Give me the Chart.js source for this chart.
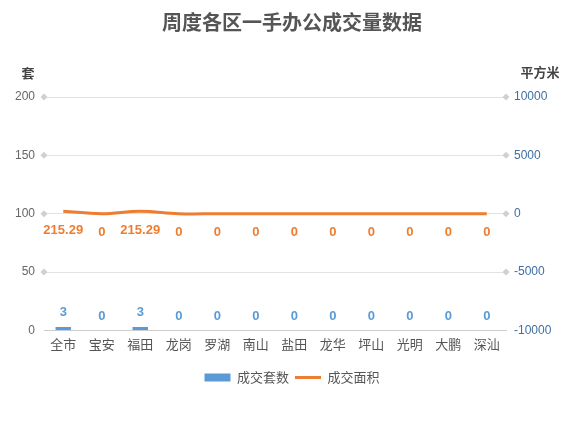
<!DOCTYPE html>
<html lang="zh-CN">
<head>
<meta charset="UTF-8">
<title>周度各区一手办公成交量数据</title>
<script src="https://cdn.jsdelivr.net/npm/chart.js"></script>
<style>
  html, body { margin: 0; padding: 0; background: #fff; }
  .chart-box { width: 584px; height: 421px; position: relative; }
</style>
</head>
<body>
<div class="chart-box"><canvas id="officeChart"></canvas></div>
<script>
const districts = ['全市', '宝安', '福田', '龙岗', '罗湖', '南山', '盐田', '龙华', '坪山', '光明', '大鹏', '深汕'];
const unitsSold = [3, 0, 3, 0, 0, 0, 0, 0, 0, 0, 0, 0];
const areaSold = [215.29, 0, 215.29, 0, 0, 0, 0, 0, 0, 0, 0, 0];
const leftTicks = [0, 50, 100, 150, 200];
const rightTicks = [-10000, -5000, 0, 5000, 10000];

const FONT = '"Liberation Sans", Arial, "Noto Sans CJK SC", sans-serif';
const BLUE = '#5b9bd5';
const ORANGE = '#ed7d31';

// small diamonds at gridline ends, axis unit titles, value labels
const extras = {
  id: 'extras',
  afterDatasetsDraw(chart) {
    const ctx = chart.ctx;
    const area = chart.chartArea;
    const yl = chart.scales.y, yr = chart.scales.y1;
    ctx.save();
    ctx.fillStyle = '#d0d0d0';
    const diamond = (x, y) => {
      ctx.beginPath();
      ctx.moveTo(x, y - 3.5); ctx.lineTo(x + 3.5, y); ctx.lineTo(x, y + 3.5); ctx.lineTo(x - 3.5, y);
      ctx.closePath(); ctx.fill();
    };
    leftTicks.forEach(v => { if (v !== 0) diamond(area.left, yl.getPixelForValue(v)); });
    rightTicks.forEach(v => { if (v !== -10000) diamond(area.right, yr.getPixelForValue(v)); });

    ctx.fillStyle = '#444';
    ctx.font = 'bold 13px "Noto Sans CJK SC", sans-serif';
    ctx.textAlign = 'center';
    ctx.textBaseline = 'middle';
    ctx.fillText('套', 28, 73);
    ctx.fillText('平方米', 540, 72);

    ctx.font = 'bold 13px ' + FONT;
    chart.getDatasetMeta(0).data.forEach((bar, i) => {
      ctx.fillStyle = BLUE;
      ctx.fillText(String(unitsSold[i]), bar.x, bar.y - 14);
    });
    chart.getDatasetMeta(1).data.forEach((pt, i) => {
      ctx.fillStyle = ORANGE;
      ctx.fillText(String(areaSold[i]), pt.x, pt.y + 19);
    });
    ctx.restore();
  }
};

new Chart(document.getElementById('officeChart'), {
  data: {
    labels: districts,
    datasets: [
      {
        type: 'bar',
        label: '成交套数',
        data: unitsSold,
        backgroundColor: BLUE,
        yAxisID: 'y',
        barPercentage: 0.5,
        categoryPercentage: 0.8,
        order: 2
      },
      {
        type: 'line',
        label: '成交面积',
        data: areaSold,
        borderColor: ORANGE,
        backgroundColor: ORANGE,
        borderWidth: 3,
        pointRadius: 0,
        tension: 0.4,
        yAxisID: 'y1',
        order: 1
      }
    ]
  },
  options: {
    responsive: true,
    maintainAspectRatio: false,
    animation: false,
    layout: { padding: { top: 0, bottom: 27, left: 0, right: 0 } },
    plugins: {
      title: {
        display: true,
        text: '周度各区一手办公成交量数据',
        color: '#555',
        font: { family: '"Noto Sans CJK SC", sans-serif', size: 20, weight: 'bold' },
        padding: { top: 10, bottom: 63 }
      },
      legend: {
        position: 'bottom',
        labels: {
          usePointStyle: true,
          pointStyleWidth: 26,
          boxHeight: 8,
          color: '#555',
          font: { family: '"Noto Sans CJK SC", sans-serif', size: 13 },
          padding: 6,
          generateLabels(chart) {
            return chart.data.datasets.map((ds, i) => ({
              text: ds.label,
              fillStyle: ds.type === 'bar' ? BLUE : ORANGE,
              strokeStyle: ds.type === 'bar' ? BLUE : ORANGE,
              lineWidth: ds.type === 'bar' ? 0 : 3,
              pointStyle: ds.type === 'bar' ? 'rect' : 'line',
              fontColor: '#555',
              datasetIndex: i,
              hidden: false
            }));
          }
        }
      },
      tooltip: { enabled: false }
    },
    scales: {
      x: {
        grid: { display: false, drawTicks: false },
        border: { color: '#ccc' },
        afterFit: s => { s.height = s.height + 7; },
        ticks: { color: '#555', font: { family: '"Noto Sans CJK SC", sans-serif', size: 13 }, padding: 6 }
      },
      y: {
        position: 'left',
        min: 0, max: 200,
        afterBuildTicks: s => { s.ticks = leftTicks.map(v => ({ value: v })); },
        afterFit: s => { s.width = 44; },
        grid: { color: '#e2e2e2', drawTicks: false },
        border: { display: false },
        ticks: { color: '#666', font: { family: FONT, size: 12 }, padding: 9 }
      },
      y1: {
        position: 'right',
        min: -10000, max: 10000,
        afterBuildTicks: s => { s.ticks = rightTicks.map(v => ({ value: v })); },
        afterFit: s => { s.width = 78; },
        grid: { display: false, drawTicks: false },
        border: { display: false },
        ticks: { color: '#3f6ea3', font: { family: FONT, size: 12 }, padding: 8, callback: v => String(v) }
      }
    }
  },
  plugins: [extras]
});
</script>
</body>
</html>
